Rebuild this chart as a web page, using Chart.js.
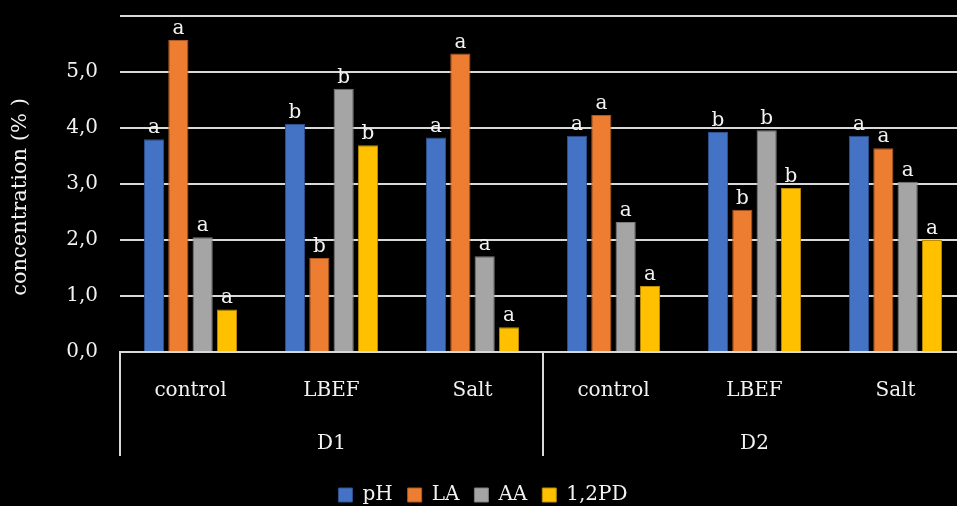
<!DOCTYPE html>
<html>
<head>
<meta charset="utf-8">
<script src="https://cdn.jsdelivr.net/npm/chart.js@4"></script>
<style>
html, body { margin: 0; padding: 0; background: #000; overflow: hidden; }
#wrap { width: 966px; height: 506px; }
</style>
</head>
<body>
<div id="wrap"><canvas id="chart" width="966" height="506"></canvas></div>
<script>
// treatments (inner category row) and doses (outer row)
const treatments = ['control', 'LBEF', 'Salt', 'control', 'LBEF', 'Salt'];
const doses = ['D1', 'D2'];

// concentration values
const phValues = [3.80, 4.07, 3.83, 3.86, 3.93, 3.86];
const laValues = [5.57, 1.68, 5.33, 4.23, 2.54, 3.64];
const aaValues = [2.05, 4.70, 1.71, 2.32, 3.96, 3.04];
const pdValues = [0.76, 3.69, 0.44, 1.18, 2.93, 2.00];

// significance letters above each bar
const phLetters = ['a', 'b', 'a', 'a', 'b', 'a'];
const laLetters = ['a', 'b', 'a', 'a', 'b', 'a'];
const aaLetters = ['a', 'b', 'a', 'a', 'b', 'a'];
const pdLetters = ['a', 'b', 'a', 'a', 'b', 'a'];

const yTitle = 'concentration (% )';

const FONT = '"DejaVu Serif", serif';
const TEXT = '#f2f2f2';
const GRID = '#d9d9d9';
const PLOT_TOP = 16;
const PLOT_BOTTOM = 352;
const PAD_BOTTOM = -9;
const GROUP_LINE_END = 456;

/**
 * Writes the letter over every bar, the y title and the outer dose row of the x axis.
 */
const annotatePlugin = {
    id: 'annotate',
    afterDatasetsDraw(chart) {
        const ctx = chart.ctx;
        ctx.save();
        ctx.font = '20px ' + FONT;
        ctx.fillStyle = TEXT;
        ctx.textAlign = 'center';
        ctx.textBaseline = 'alphabetic';
        chart.data.datasets.forEach((ds, i) => {
            chart.getDatasetMeta(i).data.forEach((bar, j) => {
                ctx.fillText(ds.letters[j], bar.x, bar.y - 6);
            });
        });
        ctx.restore();
    },
    afterDraw(chart) {
        const ctx = chart.ctx;
        const x = chart.scales.x;
        const top = chart.chartArea.bottom;
        const perGroup = treatments.length / doses.length;

        ctx.save();
        ctx.strokeStyle = GRID;
        ctx.lineWidth = 2;
        for (let g = 0; g <= doses.length; g++) {
            const first = g * perGroup;
            const px = first === 0
                ? chart.chartArea.left
                : (first >= treatments.length ? chart.chartArea.right
                    : (x.getPixelForValue(first - 1) + x.getPixelForValue(first)) / 2);
            ctx.beginPath();
            ctx.moveTo(px, top);
            ctx.lineTo(px, GROUP_LINE_END);
            ctx.stroke();
        }

        ctx.font = '20px ' + FONT;
        ctx.fillStyle = TEXT;
        ctx.textAlign = 'center';
        ctx.textBaseline = 'middle';
        doses.forEach((d, g) => {
            const a = x.getPixelForValue(g * perGroup);
            const b = x.getPixelForValue((g + 1) * perGroup - 1);
            ctx.fillText(d, (a + b) / 2, 444);
        });

        // y axis title, a bit below the plot centre like the original
        ctx.font = '21px ' + FONT;
        ctx.translate(21, 197);
        ctx.rotate(-Math.PI / 2);
        ctx.fillText(yTitle, 0, 0);
        ctx.restore();
    }
};

function makeSet(label, values, letters, color, edge) {
    return {
        label: label,
        data: values,
        letters: letters,
        backgroundColor: color,
        borderColor: edge,
        borderWidth: 1,
        categoryPercentage: 0.69,
        barPercentage: 0.83
    };
}

new Chart(document.getElementById('chart'), {
    type: 'bar',
    data: {
        labels: treatments,
        datasets: [
            makeSet('pH', phValues, phLetters, '#4472C4', '#2F528F'),
            makeSet('LA', laValues, laLetters, '#ED7D31', '#AE5A21'),
            makeSet('AA', aaValues, aaLetters, '#A5A5A5', '#7C7C7C'),
            makeSet('1,2PD', pdValues, pdLetters, '#FFC000', '#BC8C00')
        ]
    },
    options: {
        responsive: false,
        animation: false,
        devicePixelRatio: 1,
        layout: { padding: { top: PLOT_TOP, left: 0, right: 0, bottom: PAD_BOTTOM } },
        plugins: {
            tooltip: { enabled: false },
            legend: {
                position: 'bottom',
                labels: {
                    color: TEXT,
                    font: { family: FONT, size: 20 },
                    boxWidth: 14,
                    boxHeight: 14,
                    padding: 15
                }
            }
        },
        scales: {
            x: {
                grid: { display: false },
                border: { display: true, color: GRID, width: 2 },
                ticks: {
                    color: TEXT,
                    font: { family: FONT, size: 20 },
                    padding: 19,
                    maxRotation: 0
                },
                afterFit(scale) {
                    const legendH = scale.chart.legend ? scale.chart.legend.height : 36;
                    scale.height = scale.chart.height - PAD_BOTTOM - PLOT_BOTTOM - legendH;
                }
            },
            y: {
                min: 0,
                max: 6,
                grid: { color: GRID, lineWidth: 2, drawTicks: false },
                border: { display: false },
                ticks: {
                    stepSize: 1,
                    color: TEXT,
                    font: { family: FONT, size: 20 },
                    padding: 22,
                    callback: v => v === 6 ? '' : v.toFixed(1).replace('.', ',')
                },
                afterFit(scale) {
                    scale.width = 120;
                    // the label padding should not push the plot down
                    scale.paddingTop = 0;
                    scale.paddingBottom = 0;
                }
            }
        }
    },
    plugins: [annotatePlugin]
});
</script>
</body>
</html>
